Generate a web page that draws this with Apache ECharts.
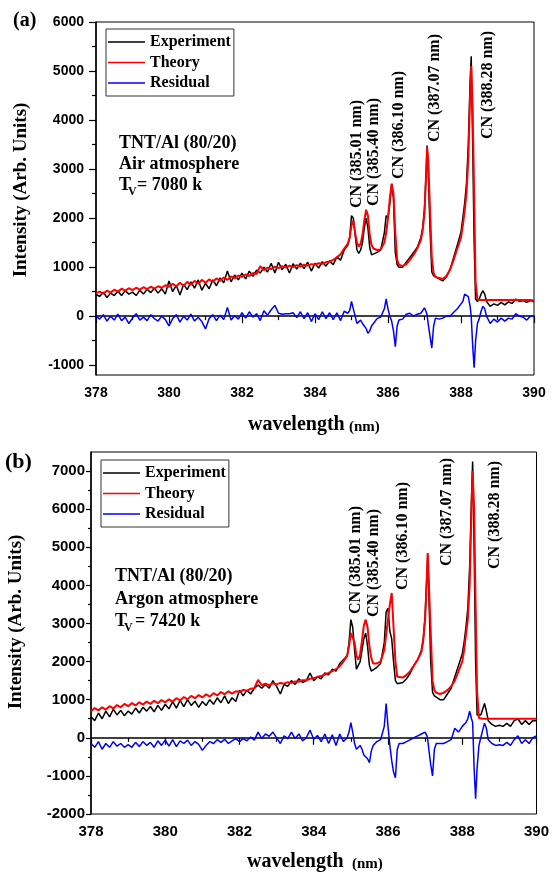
<!DOCTYPE html>
<html>
<head>
<meta charset="utf-8">
<script src="https://cdn.jsdelivr.net/npm/echarts@6/dist/echarts.min.js"></script>
<style>
  html, body { margin: 0; padding: 0; background: #fff; }
  #main { width: 552px; height: 872px; }
</style>
</head>
<body>
<div id="main"></div>
<script>
// wavelength grid (nm), shared by both panels
var wavelength = [
  378.0, 378.1, 378.2, 378.3, 378.4, 378.5, 378.6, 378.7, 378.8, 378.9,
  379.0, 379.1, 379.2, 379.3, 379.4, 379.5, 379.6, 379.7, 379.8, 379.9,
  380.0, 380.1, 380.2, 380.3, 380.4, 380.5, 380.6, 380.7, 380.8, 380.9,
  381.0, 381.1, 381.2, 381.3, 381.4, 381.5, 381.6, 381.7, 381.8, 381.9,
  382.0, 382.1, 382.2, 382.3, 382.4, 382.5, 382.6, 382.7, 382.8, 382.9,
  383.0, 383.1, 383.2, 383.3, 383.4, 383.5, 383.6, 383.7, 383.8, 383.9,
  384.0, 384.1, 384.2, 384.3, 384.4, 384.5, 384.6, 384.7, 384.8,
  384.9, 384.95, 385.0, 385.05, 385.1, 385.15, 385.2, 385.25, 385.3, 385.35,
  385.4, 385.45, 385.5, 385.55, 385.6, 385.7, 385.8, 385.9, 385.95, 386.0,
  386.05, 386.1, 386.15, 386.2, 386.25, 386.3, 386.4, 386.5, 386.6, 386.7,
  386.8, 386.9, 386.95, 387.0, 387.05, 387.07, 387.1, 387.15, 387.2, 387.25,
  387.3, 387.4, 387.5, 387.6, 387.7, 387.8, 387.9, 388.0, 388.05, 388.1,
  388.15, 388.2, 388.25, 388.28, 388.32, 388.36, 388.4, 388.45, 388.5, 388.55,
  388.6, 388.65, 388.7, 388.8, 388.9, 389.0, 389.1, 389.2, 389.3, 389.4,
  389.5, 389.6, 389.7, 389.8, 389.9, 390.0
];

// panel (a) : air atmosphere
var experimentA = [
  450, 400, 490, 380, 470, 420, 510, 420, 520, 450,
  490, 420, 530, 450, 550, 480, 570, 470, 560, 450,
  720, 500, 630, 430, 650, 540, 700, 570, 740, 530,
  670, 560, 740, 620, 780, 680, 920, 700, 840, 740,
  880, 760, 920, 810, 940, 880, 1000, 900, 1080, 880,
  1100, 950, 1060, 880, 1070, 960, 1080, 970, 1100, 920,
  1080, 980, 1110, 1020, 1130, 1050, 1210, 1140, 1350,
  1450, 1600, 2050, 2000, 1650, 1350, 1280, 1350, 1500, 1800,
  2000, 1800, 1400, 1250, 1250, 1300, 1350, 1700, 2050, 2000,
  2300, 2700, 2400, 1300, 1050, 1000, 1000, 1100, 1200, 1300,
  1400, 1600, 1800, 2200, 3000, 3480, 3000, 1800, 900, 820,
  790, 760, 720, 800, 950, 1200, 1450, 1720, 2000, 2300,
  2700, 3500, 4800, 5300, 3500, 1500, 350, 300, 350, 450,
  520, 450, 300, 200, 250, 220, 280, 230, 290, 260,
  350, 300, 320, 280, 320, 300
];
var theoryA = [
  470, 500, 460, 520, 480, 540, 500, 560, 520, 570,
  530, 580, 540, 590, 550, 600, 560, 610, 580, 630,
  600, 660, 610, 680, 620, 700, 640, 720, 660, 740,
  680, 750, 700, 770, 720, 790, 740, 810, 770, 830,
  800, 850, 820, 880, 860, 1020, 940, 990, 960, 1010,
  980, 1020, 990, 1030, 1000, 1040, 1010, 1050, 1030, 1060,
  1050, 1080, 1070, 1100, 1110, 1150, 1200, 1260, 1380,
  1480, 1600, 1850, 1950, 1700, 1500, 1420, 1480, 1650, 1950,
  2170, 2050, 1650, 1450, 1380, 1350, 1360, 1500, 1700, 2000,
  2400, 2700, 2500, 1700, 1150, 1050, 1020, 1060, 1150, 1250,
  1380, 1550, 1750, 2100, 3000, 3450, 3200, 2200, 1200, 880,
  800, 780, 760, 820, 950, 1150, 1380, 1600, 1850, 2150,
  2500, 3200, 4500, 5100, 4200, 2500, 700, 340, 330, 330,
  330, 330, 330, 330, 330, 330, 330, 330, 330, 330,
  330, 330, 330, 330, 330, 320
];
var residualA = [
  0, -60, 30, -100, 0, -80, 40, -90, -20, -150,
  -40, 50, -80, -20, -90, 30, -50, -100, 0, -70,
  -200, -50, 30, -120, 0, -80, 40, -100, -20, -110,
  -260, -50, 30, -90, 20, -70, 180, -80, 10, -60,
  70, -40, 90, -20, 50, -90, 110, 20, 130, 220,
  60, 40, 50, 50, 70, -30, 90, -50, 70, -110,
  50, -70, 90, -50, 70, -70, 70, -90, 100,
  60, 120, 300, 150, 0, -150, -120, -80, -150, -200,
  -250, -350, -300, -200, -150, -50, -20, 150, 350, 150,
  0, -100, -300, -620, -200, -80, -60, 40, 60, 0,
  40, 60, 100, 170, 80, 30, -150, -400, -650, -200,
  -40, -60, -40, 0, 0, 80, 150, 250, 300, 450,
  420, 400, 200, 0, -600, -1050, -500, -150, -50, 100,
  200, 150, 0, -150, -60, -120, -40, -100, -40, -60,
  50, 0, -20, -80, 0, 0
];

// panel (b) : argon atmosphere
var experimentB = [
  550, 450, 650, 500, 700, 550, 750, 600, 720, 580,
  700, 620, 780, 650, 800, 700, 820, 680, 850, 720,
  880, 760, 950, 780, 980, 820, 1000, 850, 960, 800,
  950, 850, 1000, 880, 1050, 920, 1100, 900, 1050, 950,
  1250, 1100, 1250, 1150, 1300, 1380, 1300, 1400, 1300, 1500,
  1350, 1150, 1400, 1350, 1500, 1400, 1550, 1450, 1500, 1700,
  1500, 1600, 1550, 1700, 1650, 1800, 1750, 1950, 2050,
  2150, 2500, 3100, 2900, 2300, 1800, 1800, 2000, 2300, 2600,
  2750, 2400, 1900, 1750, 1750, 1850, 1950, 2500, 3300, 3400,
  2800, 2600, 2000, 1500, 1420, 1400, 1450, 1550, 1700, 1900,
  2050, 2300, 2600, 3200, 4300, 4800, 3800, 2000, 1200, 1100,
  1050, 1000, 1000, 1150, 1300, 1600, 1900, 2200, 2500, 2900,
  3400, 4500, 6300, 7250, 5000, 2000, 600, 550, 600, 750,
  900, 700, 450, 350, 300, 330, 300, 380, 300, 450,
  500, 350, 450, 350, 450, 450
];
var theoryB = [
  700, 780, 720, 800, 740, 830, 770, 860, 800, 890,
  830, 910, 850, 930, 870, 950, 890, 970, 910, 990,
  930, 1010, 950, 1040, 980, 1070, 1010, 1100, 1040, 1120,
  1060, 1140, 1080, 1170, 1110, 1200, 1140, 1220, 1160, 1220,
  1200, 1260, 1230, 1290, 1300, 1520, 1380, 1420, 1380, 1430,
  1400, 1440, 1420, 1460, 1440, 1480, 1470, 1510, 1510, 1550,
  1560, 1600, 1620, 1660, 1700, 1750, 1800, 1880, 2000,
  2150, 2400, 2750, 2800, 2500, 2150, 2050, 2200, 2550, 2950,
  3100, 2900, 2400, 2100, 1950, 1950, 2000, 2300, 2700, 3100,
  3500, 3800, 2900, 2000, 1600, 1550, 1580, 1650, 1750, 1900,
  2050, 2250, 2550, 3100, 4300, 4850, 4100, 2800, 1500, 1250,
  1180, 1150, 1180, 1250, 1350, 1500, 1750, 2000, 2300, 2700,
  3100, 4000, 6000, 7000, 6000, 3500, 1200, 520, 500, 500,
  500, 500, 500, 500, 500, 500, 500, 500, 500, 500,
  500, 500, 500, 500, 500, 500
];
var residualB = [
  -150, -250, -100, -300, -150, -250, -100, -220, -150, -250,
  -180, -250, -120, -230, -100, -200, -120, -250, -80, -200,
  -60, -220, -50, -230, -80, -150, -60, -200, -100, -170,
  -330, -200, -100, -150, -50, -120, -40, -150, -80, -20,
  -100, -20, -80, 20, -60, 150, -20, 100, 40, 150,
  0, -150, 50, -20, 150, -20, 100, -80, 0, 200,
  -40, 60, -100, 100, -150, 80, -200, 100, -100,
  0, 150, 400, 150, -150, -300, -250, -200, -300, -450,
  -400, -550, -650, -350, -200, -100, -50, 300, 900, 300,
  -200, -600, -900, -1050, -300, -150, -150, -100, -50, 0,
  50, 100, 100, 150, 50, -50, -300, -700, -1000, -300,
  -150, -150, -150, -100, -50, 250, 150, 300, 350, 400,
  500, 700, 500, 400, -800, -1600, -800, -200, 0, 200,
  380, 250, -50, -150, -200, -180, -200, -120, -200, -50,
  50, -150, -50, -150, 0, 50
];

// axis ticks
var yTicksA = [-1000, 0, 1000, 2000, 3000, 4000, 5000, 6000];
var yMinorA = [-500, 500, 1500, 2500, 3500, 4500, 5500];
var yTicksB = [-2000, -1000, 0, 1000, 2000, 3000, 4000, 5000, 6000, 7000];
var yMinorB = [-1500, -500, 500, 1500, 2500, 3500, 4500, 5500, 6500];
var seriesNames = ['Experiment', 'Theory', 'Residual'];
var bandLabels = ['CN (385.01 nm)', 'CN (385.40 nm)', 'CN (386.10 nm)', 'CN (387.07 nm)', 'CN (388.28 nm)'];

function pairs(vals) {
  return wavelength.map(function (w, i) { return [w, vals[i]]; });
}

var serif = 'Liberation Serif, Times New Roman, serif';
var sans = 'Liberation Sans, Arial, sans-serif';
var plain = function (v) { return String(v); };

function xAxisCfg(gi, fs, margin) {
  return {
    gridIndex: gi, type: 'value', min: 378, max: 390, interval: 2,
    axisLine: { lineStyle: { color: '#000', width: 1.5 } },
    axisTick: { length: 7, lineStyle: { color: '#000', width: 1.2 } },
    minorTick: { show: true, splitNumber: 2, length: 4, lineStyle: { color: '#000', width: 1.2 } },
    splitLine: { show: false },
    axisLabel: { margin: margin, formatter: plain, color: '#000', fontFamily: sans, fontWeight: 'bold', fontSize: fs }
  };
}
function yAxisCfg(gi, min, max, ticks, fs, margin, tickLen) {
  return {
    gridIndex: gi, type: 'value', position: 'left', min: min, max: max,
    axisLine: { show: true, lineStyle: { color: '#000', width: 1.5 } },
    axisTick: { show: true, customValues: ticks, length: tickLen, lineStyle: { color: '#000', width: 1.2 } },
    splitLine: { show: false },
    axisLabel: { customValues: ticks, formatter: plain, margin: margin, color: '#000', fontFamily: sans, fontWeight: 'bold', fontSize: fs }
  };
}
function yMinorCfg(gi, min, max, ticks, len) {
  return {
    gridIndex: gi, type: 'value', position: 'left', offset: 0, min: min, max: max,
    axisLine: { show: false },
    axisTick: { show: true, customValues: ticks, length: len, lineStyle: { color: '#000', width: 1.2 } },
    axisLabel: { show: false },
    splitLine: { show: false }
  };
}
function lineSeries(name, vals, color, width, xi, yi) {
  return {
    name: name, type: 'line', data: pairs(vals), xAxisIndex: xi, yAxisIndex: yi,
    showSymbol: false, symbol: 'none', color: color,
    lineStyle: { color: color, width: width }
  };
}
function legendCfg(left, top) {
  return {
    data: seriesNames, orient: 'vertical', left: left, top: top,
    icon: 'rect', itemWidth: 37, itemHeight: 1.6, itemGap: 4.5,
    borderColor: '#333', borderWidth: 1, padding: [5, 3, 5, 2],
    selectedMode: false,
    textStyle: { color: '#000', fontFamily: serif, fontWeight: 'bold', fontSize: 16, lineHeight: 16 }
  };
}
function txt(x, y, text, size, rot, align) {
  return {
    type: 'text', x: x, y: y, rotation: rot || 0, silent: true,
    style: {
      text: text, fill: '#000',
      font: 'bold ' + size + 'px ' + serif,
      align: align || 'left', verticalAlign: 'middle',
      textAlign: align || 'left', textVerticalAlign: 'middle'
    }
  };
}

var R = Math.PI / 2;
var labelXA = [357, 374, 399, 435, 488], labelYA = [154, 152, 125, 88, 85];
var labelXB = [356, 374, 403, 447, 495], labelYB = [560, 563, 536, 512, 515];
var graphics = [
  txt(13, 21, '(a)', 20), txt(5, 462, '(b)', 22),
  txt(21, 190, 'Intensity (Arb. Units)', 19, R, 'center'),
  txt(16, 622, 'Intensity (Arb. Units)', 19, R, 'center'),
  txt(248, 425, 'wavelength', 20), txt(349, 427, '(nm)', 15),
  txt(247, 862, 'wavelength', 20), txt(352, 864, '(nm)', 15),
  txt(119, 143, 'TNT/Al (80/20)', 18), txt(119, 164.5, 'Air atmosphere', 18),
  txt(119, 185.5, 'T', 18), txt(128, 192, 'V', 12), txt(137, 185.5, '= 7080 k', 18),
  txt(115, 576, 'TNT/Al (80/20)', 18), txt(115, 599, 'Argon atmosphere', 18),
  txt(115, 621, 'T', 18), txt(124, 628, 'V', 12), txt(135, 621, '= 7420 k', 18)
];
bandLabels.forEach(function (t, i) {
  graphics.push(txt(labelXA[i], labelYA[i], t, 16, R, 'center'));
  graphics.push(txt(labelXB[i], labelYB[i], t, 16, R, 'center'));
});

var chart = echarts.init(document.getElementById('main'));
chart.setOption({
  animation: false,
  backgroundColor: '#fff',
  grid: [
    { left: 96, top: 22, width: 438, height: 353, show: true, borderColor: '#000', borderWidth: 1 },
    { left: 91, top: 452, width: 450, height: 362, show: true, borderColor: '#000', borderWidth: 1 }
  ],
  legend: [legendCfg(106, 29), legendCfg(101, 460)],
  xAxis: [xAxisCfg(0, 14, 11), xAxisCfg(1, 15, 10)],
  yAxis: [
    yAxisCfg(0, -1200, 6000, yTicksA, 14, 12, 7),
    yMinorCfg(0, -1200, 6000, yMinorA, 4),
    yAxisCfg(1, -2000, 7500, yTicksB, 15, 6, 5),
    yMinorCfg(1, -2000, 7500, yMinorB, 3)
  ],
  series: [
    lineSeries('Experiment', experimentA, '#000000', 1.5, 0, 0),
    lineSeries('Theory', theoryA, '#ff0000', 2, 0, 0),
    lineSeries('Residual', residualA, '#0000ff', 1.5, 0, 0),
    lineSeries('Experiment', experimentB, '#000000', 1.5, 1, 2),
    lineSeries('Theory', theoryB, '#ff0000', 2, 1, 2),
    lineSeries('Residual', residualB, '#0000ff', 1.5, 1, 2)
  ],
  graphic: graphics
});
</script>
</body>
</html>
